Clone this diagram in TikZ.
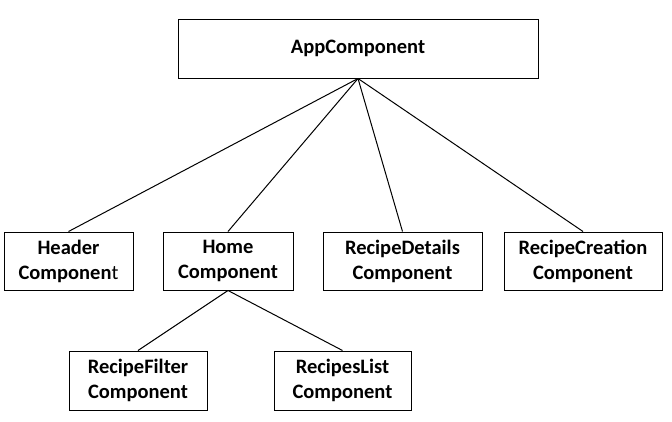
\documentclass[tikz,border=0pt]{standalone}
\usepackage{fontspec}
\setmainfont{Carlito}
\usetikzlibrary{positioning}

\begin{document}
\begin{tikzpicture}[x=1pt, y=-1pt, line width=1pt,
    comp/.style={draw, align=center, inner sep=0pt, minimum height=58pt,
        font=\fontsize{20.5}{25}\selectfont\bfseries}]
    \useasboundingbox (0,0) rectangle (672,421);

    % 顶层
    \node[comp, minimum width=360pt, minimum height=59pt] (app) at (358,48.5) {AppComponent};

    % 第二层
    \node[comp, minimum width=129pt] (header) at (68.5,261) {Header\\Componen{\mdseries t}};
    \node[comp, minimum width=130pt] (home) at (228,261) {Home\\Component};
    \node[comp, minimum width=159pt] (details) at (402.5,261) {RecipeDetails\\Component};
    \node[comp, minimum width=158pt] (creation) at (583,261) {RecipeCreation\\Component};

    % 第三层
    \node[comp, minimum width=138pt, minimum height=59pt] (filter) at (138,380.5) {RecipeFilter\\Component};
    \node[comp, minimum width=137pt, minimum height=59pt] (list) at (342.5,380.5) {RecipesList\\Component};

    % 连线
    \foreach \child in {header, home, details, creation}
        \draw (app.south) -- (\child.north);
    \draw (home.south) -- (filter.north);
    \draw (home.south) -- (list.north);
\end{tikzpicture}
\end{document}
